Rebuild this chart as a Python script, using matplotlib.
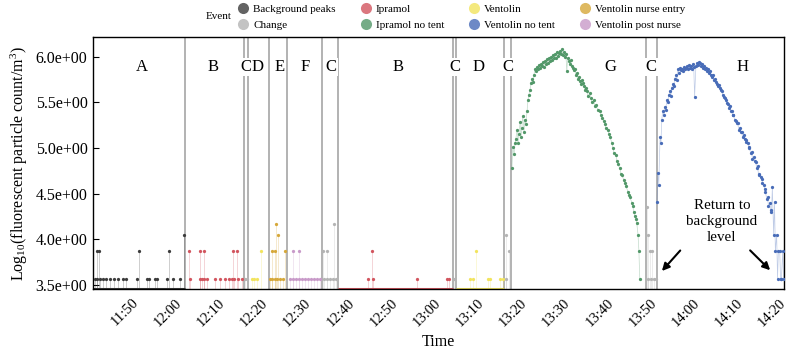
import numpy as np
import pandas as pd
import matplotlib
matplotlib.use('Agg')
import matplotlib.pyplot as plt
import matplotlib.dates as mdates
from matplotlib.lines import Line2D
from matplotlib.ticker import FormatStrFormatter

plt.rcParams['font.family'] = ['Liberation Serif', 'DejaVu Serif']
plt.rcParams['mathtext.default'] = 'regular'

# ---- data: times are minutes after 11:00, values are log10(count/m3) ----
events = ['Background peaks', 'Change', 'Ipramol', 'Ipramol no tent',
          'Ventolin', 'Ventolin no tent', 'Ventolin nurse entry', 'Ventolin post nurse']
colors = ['#3c3c3c', '#b4b4b4', '#d2555f', '#529869',
          '#f2e45e', '#486cb8', '#d6a83a', '#c89ac9']

bg_time = [43.2, 43.6, 43.6, 44.1, 44.3, 45.0, 45.7, 46.6, 47.6, 48.5, 49.7, 50.3,
           52.9, 53.4, 55.2, 55.7, 57.1, 57.5, 59.8, 60.3, 61.2, 62.8, 63.8]
bg_value = [3.57, 3.57, 3.87, 3.87, 3.57, 3.57, 3.57, 3.57, 3.57, 3.57, 3.57, 3.57,
            3.57, 3.87, 3.57, 3.57, 3.57, 3.57, 3.57, 3.87, 3.57, 3.57, 4.05]

change_time = [77.9, 78.4, 96.0, 96.2, 96.9, 96.9, 97.6, 98.3, 98.5, 99.0, 126.3,
               138.3, 138.3, 139.0, 170.9, 171.2, 171.2, 171.6, 171.9, 172.1, 172.6, 173.0]
change_value = [3.57, 3.57, 3.87, 3.57, 3.57, 3.87, 3.57, 3.57, 4.17, 3.57, 3.57,
                4.05, 3.57, 3.87, 4.35, 4.05, 3.57, 3.87, 3.57, 3.87, 3.57, 3.57]

ipr_time = [64.9, 65.2, 67.5, 67.5, 67.9, 68.4, 68.4, 69.1, 70.9, 72.1, 73.3, 74.2,
            74.9, 75.1, 75.3, 76.0, 76.3, 77.2, 106.4, 107.3, 107.5, 117.7, 124.6, 125.1]
ipr_value = [3.87, 3.57, 3.87, 3.57, 3.57, 3.87, 3.57, 3.57, 3.57, 3.57, 3.57, 3.57,
             3.57, 3.87, 3.57, 3.87, 3.57, 3.57, 3.57, 3.87, 3.57, 3.57, 3.57, 3.57]

ven_time = [79.5, 80.0, 80.7, 81.6, 130.0, 130.7, 131.4, 134.2, 134.6, 136.9, 137.6]
ven_value = [3.57, 3.57, 3.57, 3.87, 3.57, 3.57, 3.87, 3.57, 3.57, 3.57, 3.57]

nurse_time = [83.7, 84.1, 84.1, 84.8, 84.8, 85.1, 85.3, 85.5, 86.0, 86.7, 87.2]
nurse_value = [3.57, 3.57, 3.87, 3.57, 3.87, 4.17, 3.57, 4.05, 3.57, 3.57, 3.87]

post_time = [88.3, 89.0, 89.0, 89.7, 90.4, 90.4, 91.1, 91.8, 92.5, 93.2, 93.9, 94.6, 95.3]
post_value = [3.57, 3.57, 3.87, 3.57, 3.57, 3.87, 3.57, 3.57, 3.57, 3.57, 3.57, 3.57, 3.57]

ipr_nt_time = [139.7, 139.9, 140.2, 140.4, 140.6, 140.9, 141.1, 141.3, 141.6, 141.8,
               142.0, 142.2, 142.5, 142.7, 142.9, 143.2, 143.4, 143.6, 143.9, 144.1,
               144.3, 144.6, 144.8, 145.0, 145.3, 145.5, 145.7, 145.9, 146.2, 146.4,
               146.6, 146.9, 147.1, 147.3, 147.6, 147.8, 148.0, 148.3, 148.5, 148.7,
               149.0, 149.2, 149.4, 149.6, 149.9, 150.1, 150.3, 150.6, 150.8, 151.0,
               151.3, 151.5, 151.7, 152.0, 152.2, 152.4, 152.6, 152.9, 153.1, 153.3,
               153.6, 153.8, 154.0, 154.3, 154.5, 154.7, 155.0, 155.2, 155.4, 155.7,
               155.9, 156.1, 156.4, 156.6, 156.8, 157.1, 157.3, 157.8, 158.0, 158.2,
               158.7, 158.9, 159.1, 159.6, 160.1, 160.3, 160.5, 161.0, 161.2, 161.5,
               161.9, 162.2, 162.4, 162.9, 163.1, 163.3, 163.8, 164.0, 164.2, 164.7,
               164.9, 165.2, 165.6, 165.9, 166.1, 166.6, 166.8, 167.0, 167.5, 167.7,
               167.9, 168.2, 168.4, 168.6, 168.9, 169.1, 169.3]
ipr_nt_value = [4.78, 5.01, 4.93, 5.05, 5.10, 5.20, 5.05, 5.15, 5.28, 5.12,
                5.22, 5.35, 5.18, 5.31, 5.26, 5.40, 5.52, 5.58, 5.64, 5.71,
                5.75, 5.72, 5.80, 5.86, 5.84, 5.89, 5.87, 5.91, 5.88, 5.92,
                5.90, 5.94, 5.89, 5.95, 5.92, 5.97, 5.93, 5.99, 5.95, 6.00,
                5.96, 6.02, 5.98, 6.03, 5.99, 6.05, 6.01, 6.04, 6.06, 6.03,
                6.08, 6.02, 6.05, 6.00, 6.03, 5.84, 5.98, 5.95, 5.92, 5.96,
                5.90, 5.88, 5.85, 5.86, 5.80, 5.82, 5.76, 5.78, 5.73, 5.70,
                5.74, 5.71, 5.68, 5.64, 5.66, 5.62, 5.57, 5.60, 5.55, 5.50,
                5.52, 5.46, 5.47, 5.42, 5.40, 5.36, 5.33, 5.30, 5.26, 5.22,
                5.20, 5.15, 5.12, 5.05, 5.00, 4.95, 4.92, 4.86, 4.82, 4.78,
                4.72, 4.70, 4.65, 4.62, 4.58, 4.52, 4.48, 4.46, 4.40, 4.36,
                4.30, 4.25, 4.22, 4.18, 4.05, 3.87, 3.57]

ven_nt_time = [173.3, 173.5, 173.7, 174.0, 174.2, 174.4, 174.6, 174.9, 175.1, 175.3,
               175.6, 175.8, 176.0, 176.3, 176.5, 176.7, 177.0, 177.2, 177.4, 177.7,
               177.9, 178.1, 178.3, 178.6, 178.8, 179.0, 179.3, 179.5, 179.7, 180.0,
               180.2, 180.4, 180.7, 180.9, 181.1, 181.3, 181.6, 181.8, 182.0, 182.3,
               182.5, 182.7, 183.0, 183.2, 183.4, 183.7, 183.9, 184.1, 184.4, 184.6,
               184.8, 185.0, 185.3, 185.5, 185.7, 186.0, 186.2, 186.4, 186.7, 186.9,
               187.1, 187.3, 187.6, 187.8, 188.0, 188.3, 188.5, 188.7, 189.0, 189.2,
               189.4, 189.7, 189.9, 190.1, 190.4, 190.6, 190.8, 191.0, 191.3, 191.5,
               191.7, 192.0, 192.2, 192.4, 192.7, 192.9, 193.1, 193.4, 193.6, 193.8,
               194.0, 194.3, 194.5, 194.7, 195.0, 195.2, 195.4, 195.7, 195.9, 196.1,
               196.4, 196.6, 196.8, 197.0, 197.3, 197.5, 197.7, 198.0, 198.2, 198.4,
               198.7, 198.9, 199.1, 199.4, 199.6, 199.8, 200.0, 200.3, 200.5, 200.7,
               201.0, 201.2, 201.4, 201.7, 201.9, 202.1, 202.4, 202.6]
ven_nt_value = [4.41, 4.73, 4.60, 5.12, 5.05, 5.31, 5.40, 5.36, 5.45, 5.42,
                5.53, 5.50, 5.58, 5.62, 5.57, 5.66, 5.70, 5.68, 5.76, 5.80,
                5.74, 5.86, 5.82, 5.88, 5.85, 5.87, 5.84, 5.89, 5.86, 5.88,
                5.90, 5.87, 5.91, 5.88, 5.90, 5.86, 5.92, 5.89, 5.56, 5.90,
                5.93, 5.91, 5.94, 5.93, 5.90, 5.92, 5.88, 5.90, 5.86, 5.88,
                5.84, 5.86, 5.82, 5.84, 5.80, 5.78, 5.80, 5.74, 5.76, 5.72,
                5.70, 5.68, 5.69, 5.66, 5.63, 5.62, 5.58, 5.56, 5.55, 5.52,
                5.49, 5.48, 5.44, 5.46, 5.41, 5.40, 5.36, 5.36, 5.31, 5.30,
                5.27, 5.27, 5.20, 5.22, 5.17, 5.18, 5.12, 5.14, 5.10, 5.09,
                5.07, 5.06, 5.01, 5.00, 4.94, 4.96, 4.88, 4.90, 4.86, 4.85,
                4.78, 4.80, 4.70, 4.72, 4.68, 4.66, 4.62, 4.60, 4.55, 4.52,
                4.44, 4.46, 4.36, 4.40, 4.32, 4.30, 4.57, 4.05, 4.41, 3.87,
                4.05, 3.57, 3.87, 3.87, 3.57, 3.57, 3.87, 3.57]

# stretches of zero counts drawn along the bottom of the axis
floor_events = ['Background peaks', 'Ipramol', 'Ventolin']
floor_start = [42.7, 99.4, 126.7]
floor_end = [64.0, 126.0, 137.9]

# phase boundaries and phase letters (letter positions in minutes after 11:00)
boundary_min = [64.0, 77.7, 78.6, 83.5, 87.6, 95.7, 99.4, 126.0, 126.7, 137.9, 139.5, 170.7, 173.3]
phase_labels = ['A', 'B', 'C', 'D', 'E', 'F', 'C', 'B', 'C', 'D', 'C', 'G', 'C', 'H']
phase_label_min = [54.0, 70.5, 78.1, 80.9, 85.8, 91.8, 97.8, 113.3, 126.4, 131.9, 138.8,
                   162.6, 171.9, 193.2]
x_start, x_end = 42.7, 202.7

series = {
    'Background peaks': (bg_time, bg_value),
    'Change': (change_time, change_value),
    'Ipramol': (ipr_time, ipr_value),
    'Ipramol no tent': (ipr_nt_time, ipr_nt_value),
    'Ventolin': (ven_time, ven_value),
    'Ventolin no tent': (ven_nt_time, ven_nt_value),
    'Ventolin nurse entry': (nurse_time, nurse_value),
    'Ventolin post nurse': (post_time, post_value),
}

base = pd.Timestamp('2021-06-01 11:00')


def to_num(mins):
    t = base + pd.to_timedelta(np.atleast_1d(np.asarray(mins, dtype=float)), unit='m')
    return mdates.date2num(t.values)


floor = 3.458
y_low, y_high = 3.455, 6.215

fig = plt.figure(figsize=(7.97, 3.56), dpi=100)
ax = fig.add_axes([0.1167, 0.188, 0.867, 0.708])

# phase boundaries
for b in boundary_min:
    ax.axvline(to_num(b)[0], color='0.62', lw=1.1, zorder=1)

# zero stretches
for ev, s, e in zip(floor_events, floor_start, floor_end):
    col = colors[events.index(ev)]
    ax.hlines(floor, to_num(s)[0], to_num(e)[0], color=col, lw=2.2, zorder=2)

# data points with their thin connecting lines
for ev, col in zip(events, colors):
    t, v = series[ev]
    tn = to_num(t)
    if ev in ('Ipramol no tent', 'Ventolin no tent'):
        ax.plot(tn, v, color=col, lw=0.5, alpha=0.35, zorder=2)
    else:
        ax.vlines(tn, floor, v, color=col, lw=0.5, alpha=0.35, zorder=2)
    ax.scatter(tn, v, s=5.5, color=col, linewidths=0, zorder=3)

# phase letters
for lab, pos in zip(phase_labels, phase_label_min):
    ax.text(to_num(pos)[0], 5.885, lab, ha='center', va='center', fontsize=12,
            bbox=dict(facecolor='white', edgecolor='none', pad=1.0), zorder=4)

# annotation
ax.text(to_num(188.3)[0], 4.19, 'Return to\nbackground\nlevel', ha='center', va='center',
        fontsize=10.8, linespacing=1.3, zorder=4)
ax.annotate('', xy=(to_num(174.0)[0], 3.63), xytext=(to_num(179.1)[0], 3.90),
            arrowprops=dict(arrowstyle='-|>', color='black', lw=1.5, mutation_scale=11))
ax.annotate('', xy=(to_num(199.95)[0], 3.64), xytext=(to_num(194.4)[0], 3.90),
            arrowprops=dict(arrowstyle='-|>', color='black', lw=1.5, mutation_scale=11))

# axes
ax.set_xlim(to_num(x_start)[0], to_num(x_end)[0])
ax.set_ylim(y_low, y_high)
ax.set_yticks([3.5, 4.0, 4.5, 5.0, 5.5, 6.0])
ax.yaxis.set_major_formatter(FormatStrFormatter('%.1e'))
ax.xaxis.set_major_locator(mdates.MinuteLocator(byminute=range(0, 60, 10)))
ax.xaxis.set_major_formatter(mdates.DateFormatter('%H:%M'))
ax.tick_params(axis='y', direction='in', length=4, labelsize=11.5, pad=4)
ax.tick_params(axis='x', length=0, labelsize=10.5, labelrotation=45, pad=5)
for sp in ax.spines.values():
    sp.set_linewidth(1.0)
    sp.set_color('black')

ax.set_xlabel('Time', fontsize=11.5)
ax.set_ylabel('Log$_{10}$(fluorescent particle count/m$^3$)', fontsize=11.5, labelpad=4)

# legend across the top
handles = [Line2D([], [], marker='o', linestyle='', markersize=8, color=c, alpha=0.8,
                  markeredgewidth=0) for c in colors]
fig.legend(handles, events, loc='center', bbox_to_anchor=(0.579, 0.953), ncol=4,
           frameon=False, fontsize=8, handletextpad=0.4, columnspacing=2.2,
           labelspacing=0.55, handlelength=1.0, borderpad=0.1)
fig.text(0.274, 0.953, 'Event', ha='center', va='center', fontsize=8)

fig.savefig('out.png', dpi=100)
